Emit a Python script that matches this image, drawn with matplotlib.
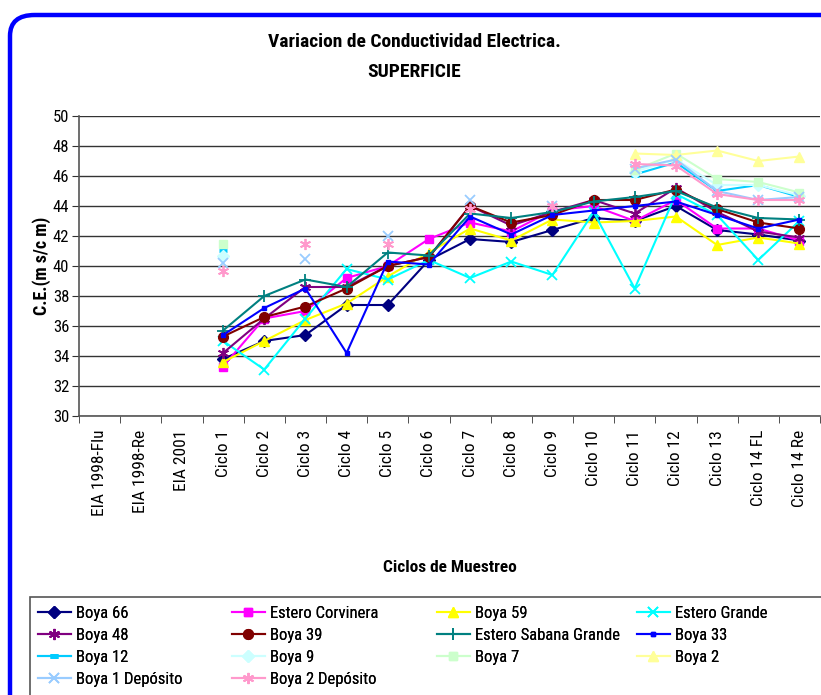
import numpy as np
import matplotlib
matplotlib.use("Agg")
import matplotlib.pyplot as plt
from matplotlib.patches import FancyBboxPatch, Rectangle
from matplotlib import font_manager

fams = {f.name for f in font_manager.fontManager.ttflist}
narrow = [f.name for f in font_manager.fontManager.ttflist
          if ("Narrow" in f.name or "Condensed" in f.name)]
cands = ["Liberation Sans Narrow", "Arial Narrow", "Roboto Condensed", "Open Sans Condensed"] + narrow
FAM = [f for f in cands if f in fams][:1]
HAVE_NARROW = bool(FAM)
FAM = FAM + [f for f in ["Liberation Sans", "DejaVu Sans"] if f in fams]
plt.rcParams['font.family'] = FAM
S = 1.0 if HAVE_NARROW else 0.88   # shrink text when no narrow face is installed

N = np.nan
categories = ["EIA 1998-Flu", "EIA 1998-Re", "EIA 2001", "Ciclo 1", "Ciclo 2", "Ciclo 3",
              "Ciclo 4", "Ciclo 5", "Ciclo 6", "Ciclo 7", "Ciclo 8", "Ciclo 9", "Ciclo 10",
              "Ciclo 11", "Ciclo 12", "Ciclo 13", "Ciclo 14 FL", "Ciclo 14 Re"]

boya_66 = [N, N, N, 33.8, 35.0, 35.4, 37.4, 37.4, 40.4, 41.8, 41.6, 42.4, 43.2, 43.0, 44.0, 42.4, 42.1, 41.7]
estero_corvinera = [N, N, N, 33.3, 36.5, 37.0, 39.2, 40.0, 41.8, 42.9, 42.3, 43.7, 44.0, 43.0, 44.4, 42.5, 42.5, 41.7]
boya_59 = [N, N, N, 33.6, 35.0, 36.4, 37.5, 39.3, 40.9, 42.5, 41.7, 43.1, 42.9, 43.0, 43.3, 41.4, 41.9, 41.5]
estero_grande = [N, N, N, 35.0, 33.1, 36.5, 39.8, 39.1, 40.4, 39.2, 40.3, 39.4, 43.6, 38.5, 44.8, 43.4, 40.4, 43.0]
boya_48 = [N, N, N, 34.2, 36.5, 38.6, 38.6, 40.0, 40.6, 44.0, 42.7, 43.6, 44.4, 43.5, 45.2, 43.6, 42.3, 41.9]
boya_39 = [N, N, N, 35.3, 36.6, 37.3, 38.5, 40.0, 40.6, 44.0, 42.9, 43.4, 44.4, 44.4, 45.1, 43.8, 42.9, 42.5]
estero_sabana = [N, N, N, 35.7, 38.0, 39.1, 38.6, 40.9, 40.7, 43.5, 43.2, 43.6, 44.3, 44.6, 45.0, 43.9, 43.2, 43.1]
boya_33 = [N, N, N, 35.4, 37.2, 38.5, 34.2, 40.3, 40.1, 43.3, 42.1, 43.4, 43.7, 44.0, 44.3, 43.4, 42.5, 43.1]
boya_12 = [N, N, N, 41.1, N, N, N, N, N, N, N, N, N, 46.1, 46.9, 45.0, 45.4, 44.6]
boya_9 = [N, N, N, 40.7, N, N, N, N, N, N, N, N, N, 46.3, 47.1, 45.4, 45.4, 44.7]
boya_7 = [N, N, N, 41.5, N, N, N, N, N, N, N, N, N, 46.4, 47.5, 45.8, 45.6, 44.9]
boya_2 = [N, N, N, N, N, N, N, N, N, N, N, N, N, 47.5, 47.4, 47.7, 47.0, 47.3]
boya_1_dep = [N, N, N, 40.2, N, 40.5, N, 42.0, N, 44.4, N, 44.0, N, 46.5, 47.1, 45.0, 44.4, 44.6]
boya_2_dep = [N, N, N, 39.7, N, 41.5, N, 41.5, N, 43.8, N, 44.0, N, 46.8, 46.7, 44.8, 44.4, 44.4]

AST = (6, 2, 0)
series = [
    ("Boya 66", boya_66, "#000080", "D", 6),
    ("Estero Corvinera", estero_corvinera, "#FF00FF", "s", 6),
    ("Boya 59", boya_59, "#FFFF00", "^", 7),
    ("Estero Grande", estero_grande, "#00FFFF", "x", 7),
    ("Boya 48", boya_48, "#800080", AST, 8),
    ("Boya 39", boya_39, "#800000", "o", 7),
    ("Estero Sabana Grande", estero_sabana, "#008080", "+", 8),
    ("Boya 33", boya_33, "#0000FF", "s", 3.5),
    ("Boya 12", boya_12, "#00CCFF", "_", 6),
    ("Boya 9", boya_9, "#CCFFFF", "D", 6),
    ("Boya 7", boya_7, "#CCFFCC", "s", 6),
    ("Boya 2", boya_2, "#FFFF99", "^", 7),
    ("Boya 1 Depósito", boya_1_dep, "#99CCFF", "x", 7),
    ("Boya 2 Depósito", boya_2_dep, "#FF99CC", AST, 8),
]

W, H = 821, 695
fig = plt.figure(figsize=(W / 100, H / 100), dpi=100)

# rounded blue frame
frame = FancyBboxPatch((10 / W, -0.2), 1.2, (H - 15) / H + 0.2,
                       boxstyle="round,pad=0,rounding_size=0.03",
                       transform=fig.transFigure, fill=False, edgecolor="#0000FF",
                       linewidth=3.2, clip_on=False)
fig.patches.append(frame)

ax = fig.add_axes([79 / W, 1 - 416 / H, (820 - 79) / W, 300 / H])
x = np.arange(len(categories))
handles = {}
for name, vals, col, mk, ms in series:
    kw = dict(marker=mk, markersize=ms, color=col, markerfacecolor=col, markeredgecolor=col,
              linewidth=1.5)
    if mk in ("x", "+", AST):
        kw["markeredgewidth"] = 1.3
    if mk == "_":
        kw["markeredgewidth"] = 3.5
    ln, = ax.plot(x, vals, label=name, **kw)
    handles[name] = ln

ax.set_xlim(-0.5, len(categories) - 0.5)
ax.set_ylim(30, 50)
ax.set_yticks(np.arange(30, 51, 2))
ax.yaxis.grid(True, color="#333333", linewidth=1.0)
ax.set_axisbelow(True)
for s in ["top", "right"]:
    ax.spines[s].set_visible(False)
for s in ["left", "bottom"]:
    ax.spines[s].set_color("#555555")
    ax.spines[s].set_linewidth(1.2)

ax.set_xticks(x)
ax.set_xticklabels(categories, rotation=90, va="top", ha="center", fontsize=12.5 * S)
ax.set_xticks(np.arange(-0.5, len(categories), 1), minor=True)
ax.tick_params(axis="x", which="major", length=0, pad=10)
ax.tick_params(axis="x", which="minor", length=5, color="#333333", direction="out")
ax.tick_params(axis="y", length=5, labelsize=12 * S, color="#333333", pad=2)

ax.set_ylabel("C.E.(m s/c m)", fontsize=13 * S, fontweight="bold", labelpad=1)
ax.set_xlabel("Ciclos de Muestreo", fontsize=12.5 * S, fontweight="bold")
ax.xaxis.set_label_coords((450 - 79) / (820 - 79), -(568 - 416) / 300)
ax.xaxis.label.set_va("center")

fig.text(414 / W, 1 - 42 / H, "Variacion de Conductividad Electrica.", ha="center", va="center",
         fontsize=14 * S, fontweight="bold")
fig.text(414 / W, 1 - 72 / H, "SUPERFICIE", ha="center", va="center",
         fontsize=14 * S, fontweight="bold")

# legend box
fig.patches.append(Rectangle((30 / W, -0.1), 1.0, (H - 597) / H + 0.1, transform=fig.transFigure,
                             fill=False, edgecolor="#555555", linewidth=1.2, clip_on=False))
columns = [["Boya 66", "Boya 48", "Boya 12", "Boya 1 Depósito"],
           ["Estero Corvinera", "Boya 39", "Boya 9", "Boya 2 Depósito"],
           ["Boya 59", "Estero Sabana Grande", "Boya 7"],
           ["Estero Grande", "Boya 33", "Boya 2"]]
col_x = [38, 232, 437, 637]
for cx, names in zip(col_x, columns):
    lg = fig.legend([handles[n] for n in names], names, loc="upper left",
                    bbox_to_anchor=(cx / W, 1 - 606 / H), frameon=False,
                    fontsize=12 * S, handlelength=1.95, handletextpad=0.3,
                    labelspacing=0.42, borderaxespad=0, borderpad=0)
    fig.add_artist(lg)

fig.savefig("out.png", dpi=100)
